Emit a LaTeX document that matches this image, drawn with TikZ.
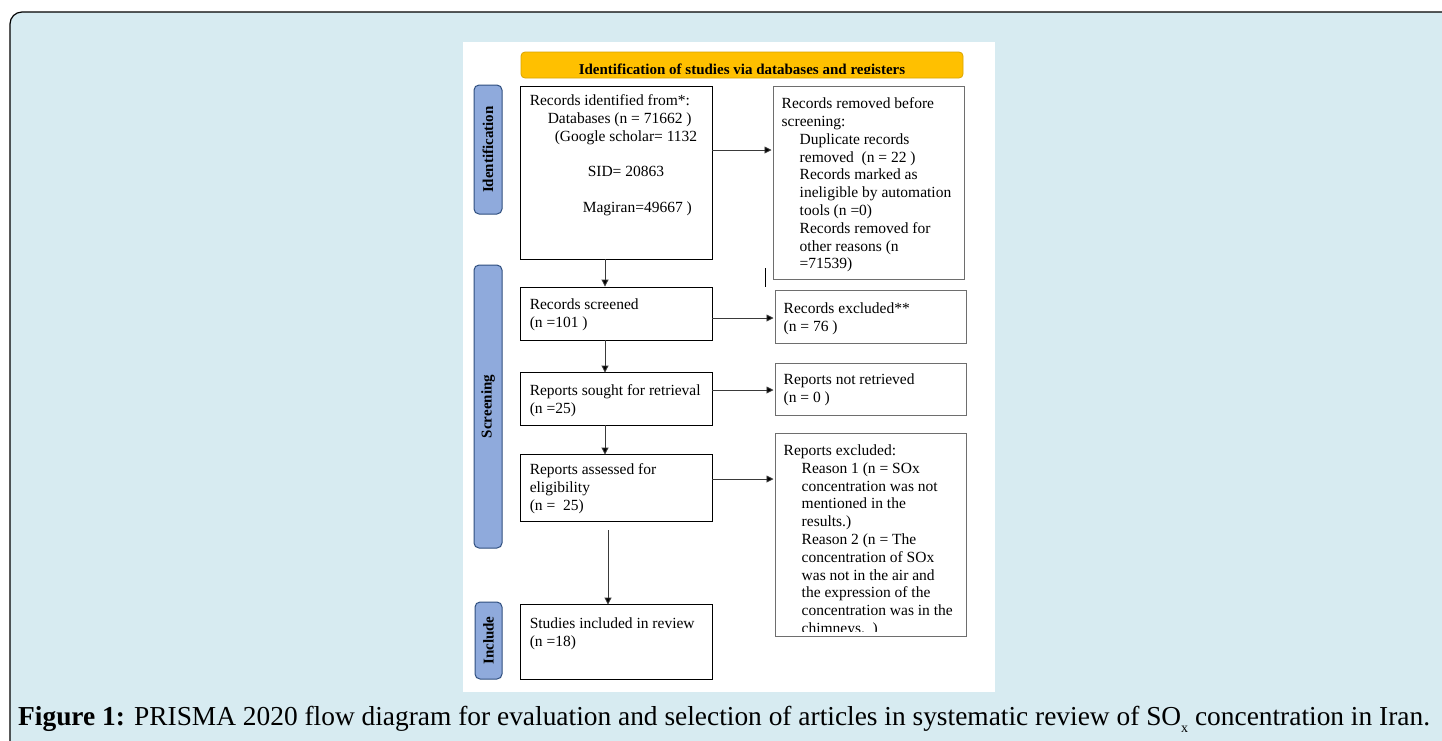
\documentclass[tikz,border=0pt]{standalone}
\usepackage{fontspec}
\setmainfont{Liberation Serif}
\usetikzlibrary{arrows.meta}
\definecolor{bgblue}{HTML}{D7EBF1}
\definecolor{hdr}{HTML}{FFC000}
\definecolor{hdrline}{HTML}{D9A400}
\definecolor{barfill}{HTML}{8FAADC}
\definecolor{barline}{HTML}{2F4F7F}
\definecolor{rline}{HTML}{6E6E6E}
\definecolor{aline}{HTML}{3A3A3A}
\tikzset{
  box/.style={draw=black, line width=0.9pt, fill=white, inner sep=0pt},
  rbox/.style={box, draw=rline, line width=1pt},
  bar/.style={draw=barline, line width=1pt, fill=barfill, rounded corners=5pt, inner sep=0pt},
  bartext/.style={rotate=90, font=\fontsize{15}{15}\selectfont\bfseries, inner sep=0pt},
  boxtext/.style={anchor=north west, align=left, inner sep=0pt, font=\fontsize{15.5}{17.8}\selectfont},
  arr/.style={draw=aline, line width=0.9pt, -{Triangle[length=7pt,width=7pt,fill=black]}},
}
\begin{document}
\begin{tikzpicture}[x=1pt,y=-1pt]
\useasboundingbox (0,0) rectangle (1442,740);
% outer frame
\draw[fill=bgblue, line width=1.2pt, rounded corners=12pt] (10,12) rectangle (1460,760);
% white panel
\fill[white] (463,42) rectangle (995,692);
% header
\node[draw=hdrline, fill=hdr, line width=0.8pt, rounded corners=4pt, minimum width=442pt, minimum height=26pt, inner sep=0pt] (hdr) at (742,65) {};
\begin{scope}
\clip (521,52) rectangle (963,73);
\node[anchor=base, inner sep=0pt, font=\fontsize{15}{15}\selectfont\bfseries] (hdrtext) at (742,74.5) {Identification of studies via databases and registers};
\end{scope}
% side bars
\node[bar, minimum width=28pt, minimum height=129pt] (idbar) at (488,149.5) {};
\node[bartext] (idtext) at (idbar.center) {Identification};
\node[bar, minimum width=28pt, minimum height=283pt] (scbar) at (488,406.5) {};
\node[bartext] (sctext) at (scbar.center) {Screening};
\node[bar, minimum width=27pt, minimum height=77pt] (inbar) at (488.5,640.5) {};
\node[bartext] (intext) at (inbar.center) {Include};
% boxes
\node[box, minimum width=192pt, minimum height=173pt] (b1) at (616,172.5) {};
\node[rbox, minimum width=191pt, minimum height=193pt] (r1) at (868.5,182.5) {};
\node[box, minimum width=192pt, minimum height=53pt] (b2) at (616,313.5) {};
\node[rbox, minimum width=191pt, minimum height=53pt] (r2) at (870.5,316.5) {};
\node[box, minimum width=192pt, minimum height=53pt] (b3) at (616,398.5) {};
\node[rbox, minimum width=191pt, minimum height=52pt] (r3) at (870.5,389) {};
\node[box, minimum width=192pt, minimum height=67pt] (b4) at (616,487.5) {};
\node[rbox, minimum width=191pt, minimum height=203pt] (r4) at (870.5,534.5) {};
\node[box, minimum width=192pt, minimum height=75pt] (b5) at (616,641.5) {};
% texts
\node[boxtext] (t1) at ([xshift=10pt,yshift=-9pt]b1.north west) {Records identified from*:\\
\hspace*{18pt}Databases (n = 71662 )\\
\hspace*{25pt}(Google scholar= 1132\\[17.8pt]
\hspace*{58pt}SID= 20863\\[17.8pt]
\hspace*{53pt}Magiran=49667 )};
\node[boxtext] (tr1) at ([xshift=9pt,yshift=-12pt]r1.north west) {Records removed before\\
screening:\\
\hspace*{18pt}Duplicate records\\
\hspace*{18pt}removed\ \ (n = 22 )\\
\hspace*{18pt}Records marked as\\
\hspace*{18pt}ineligible by automation\\
\hspace*{18pt}tools (n =0)\\
\hspace*{18pt}Records removed for\\
\hspace*{18pt}other reasons (n\\
\hspace*{18pt}=71539)};
\node[boxtext] (t2) at ([xshift=10pt,yshift=-12pt]b2.north west) {Records screened\\(n =101 )};
\node[boxtext] (tr2) at ([xshift=9pt,yshift=-13pt]r2.north west) {Records excluded**\\(n = 76 )};
\node[boxtext] (t3) at ([xshift=10pt,yshift=-13pt]b3.north west) {Reports sought for retrieval\\(n =25)};
\node[boxtext] (tr3) at ([xshift=9pt,yshift=-11pt]r3.north west) {Reports not retrieved\\(n = 0 )};
\node[boxtext] (t4) at ([xshift=10pt,yshift=-10pt]b4.north west) {Reports assessed for\\eligibility\\(n =\ \ 25)};
\begin{scope}
\clip ([xshift=1pt,yshift=5pt]r4.south west) rectangle (r4.north east);
\node[boxtext] (tr4) at ([xshift=9pt,yshift=-12pt]r4.north west) {Reports excluded:\\
\hspace*{18pt}Reason 1 (n = SOx\\
\hspace*{18pt}concentration was not\\
\hspace*{18pt}mentioned in the\\
\hspace*{18pt}results.)\\
\hspace*{18pt}Reason 2 (n = The\\
\hspace*{18pt}concentration of SOx\\
\hspace*{18pt}was not in the air and\\
\hspace*{18pt}the expression of the\\
\hspace*{18pt}concentration was in the\\
\hspace*{18pt}chimneys.\ \ )};
\end{scope}
\node[boxtext] (t5) at ([xshift=10pt,yshift=-14pt]b5.north west) {Studies included in review\\(n =18)};
% arrows
\draw[arr] ([yshift=22.5pt]b1.east) coordinate (a1) -- ([xshift=-1pt]a1 -| r1.west);
\draw[arr] ([yshift=-4.5pt]b2.east) coordinate (a2) -- ([xshift=-1pt]a2 -| r2.west);
\draw[arr] ([yshift=8.5pt]b3.east) coordinate (a3) -- ([xshift=-1pt]a3 -| r3.west);
\draw[arr] ([yshift=8.5pt]b4.east) coordinate (a4) -- ([xshift=-1pt]a4 -| r4.west);
\draw[arr] ([xshift=-11pt]b1.south) coordinate (v1) -- (v1 |- b2.north);
\draw[arr] ([xshift=-11pt]b2.south) coordinate (v2) -- ([yshift=-1pt]v2 |- b3.north);
\draw[arr] ([xshift=-11pt]b3.south) coordinate (v3) -- ([yshift=-1pt]v3 |- b4.north);
\draw[arr] ([xshift=-8pt,yshift=-9pt]b4.south) coordinate (v4) -- ([yshift=-1pt]v4 |- b5.north);
% stray tick
\coordinate (tk1) at (765,268);
\coordinate (tk2) at (765,287);
\draw[line width=0.8pt] (tk1) -- (tk2);
% caption
\node[anchor=base west, inner sep=0pt, font=\fontsize{27.4}{27.4}\selectfont] (cap) at (18,725) {\textbf{Figure 1:} PRISMA 2020 flow diagram for evaluation and selection of articles in systematic review of SO\raisebox{-7pt}{\fontsize{14}{14}\selectfont x} concentration in Iran.};
\end{tikzpicture}
\end{document}
